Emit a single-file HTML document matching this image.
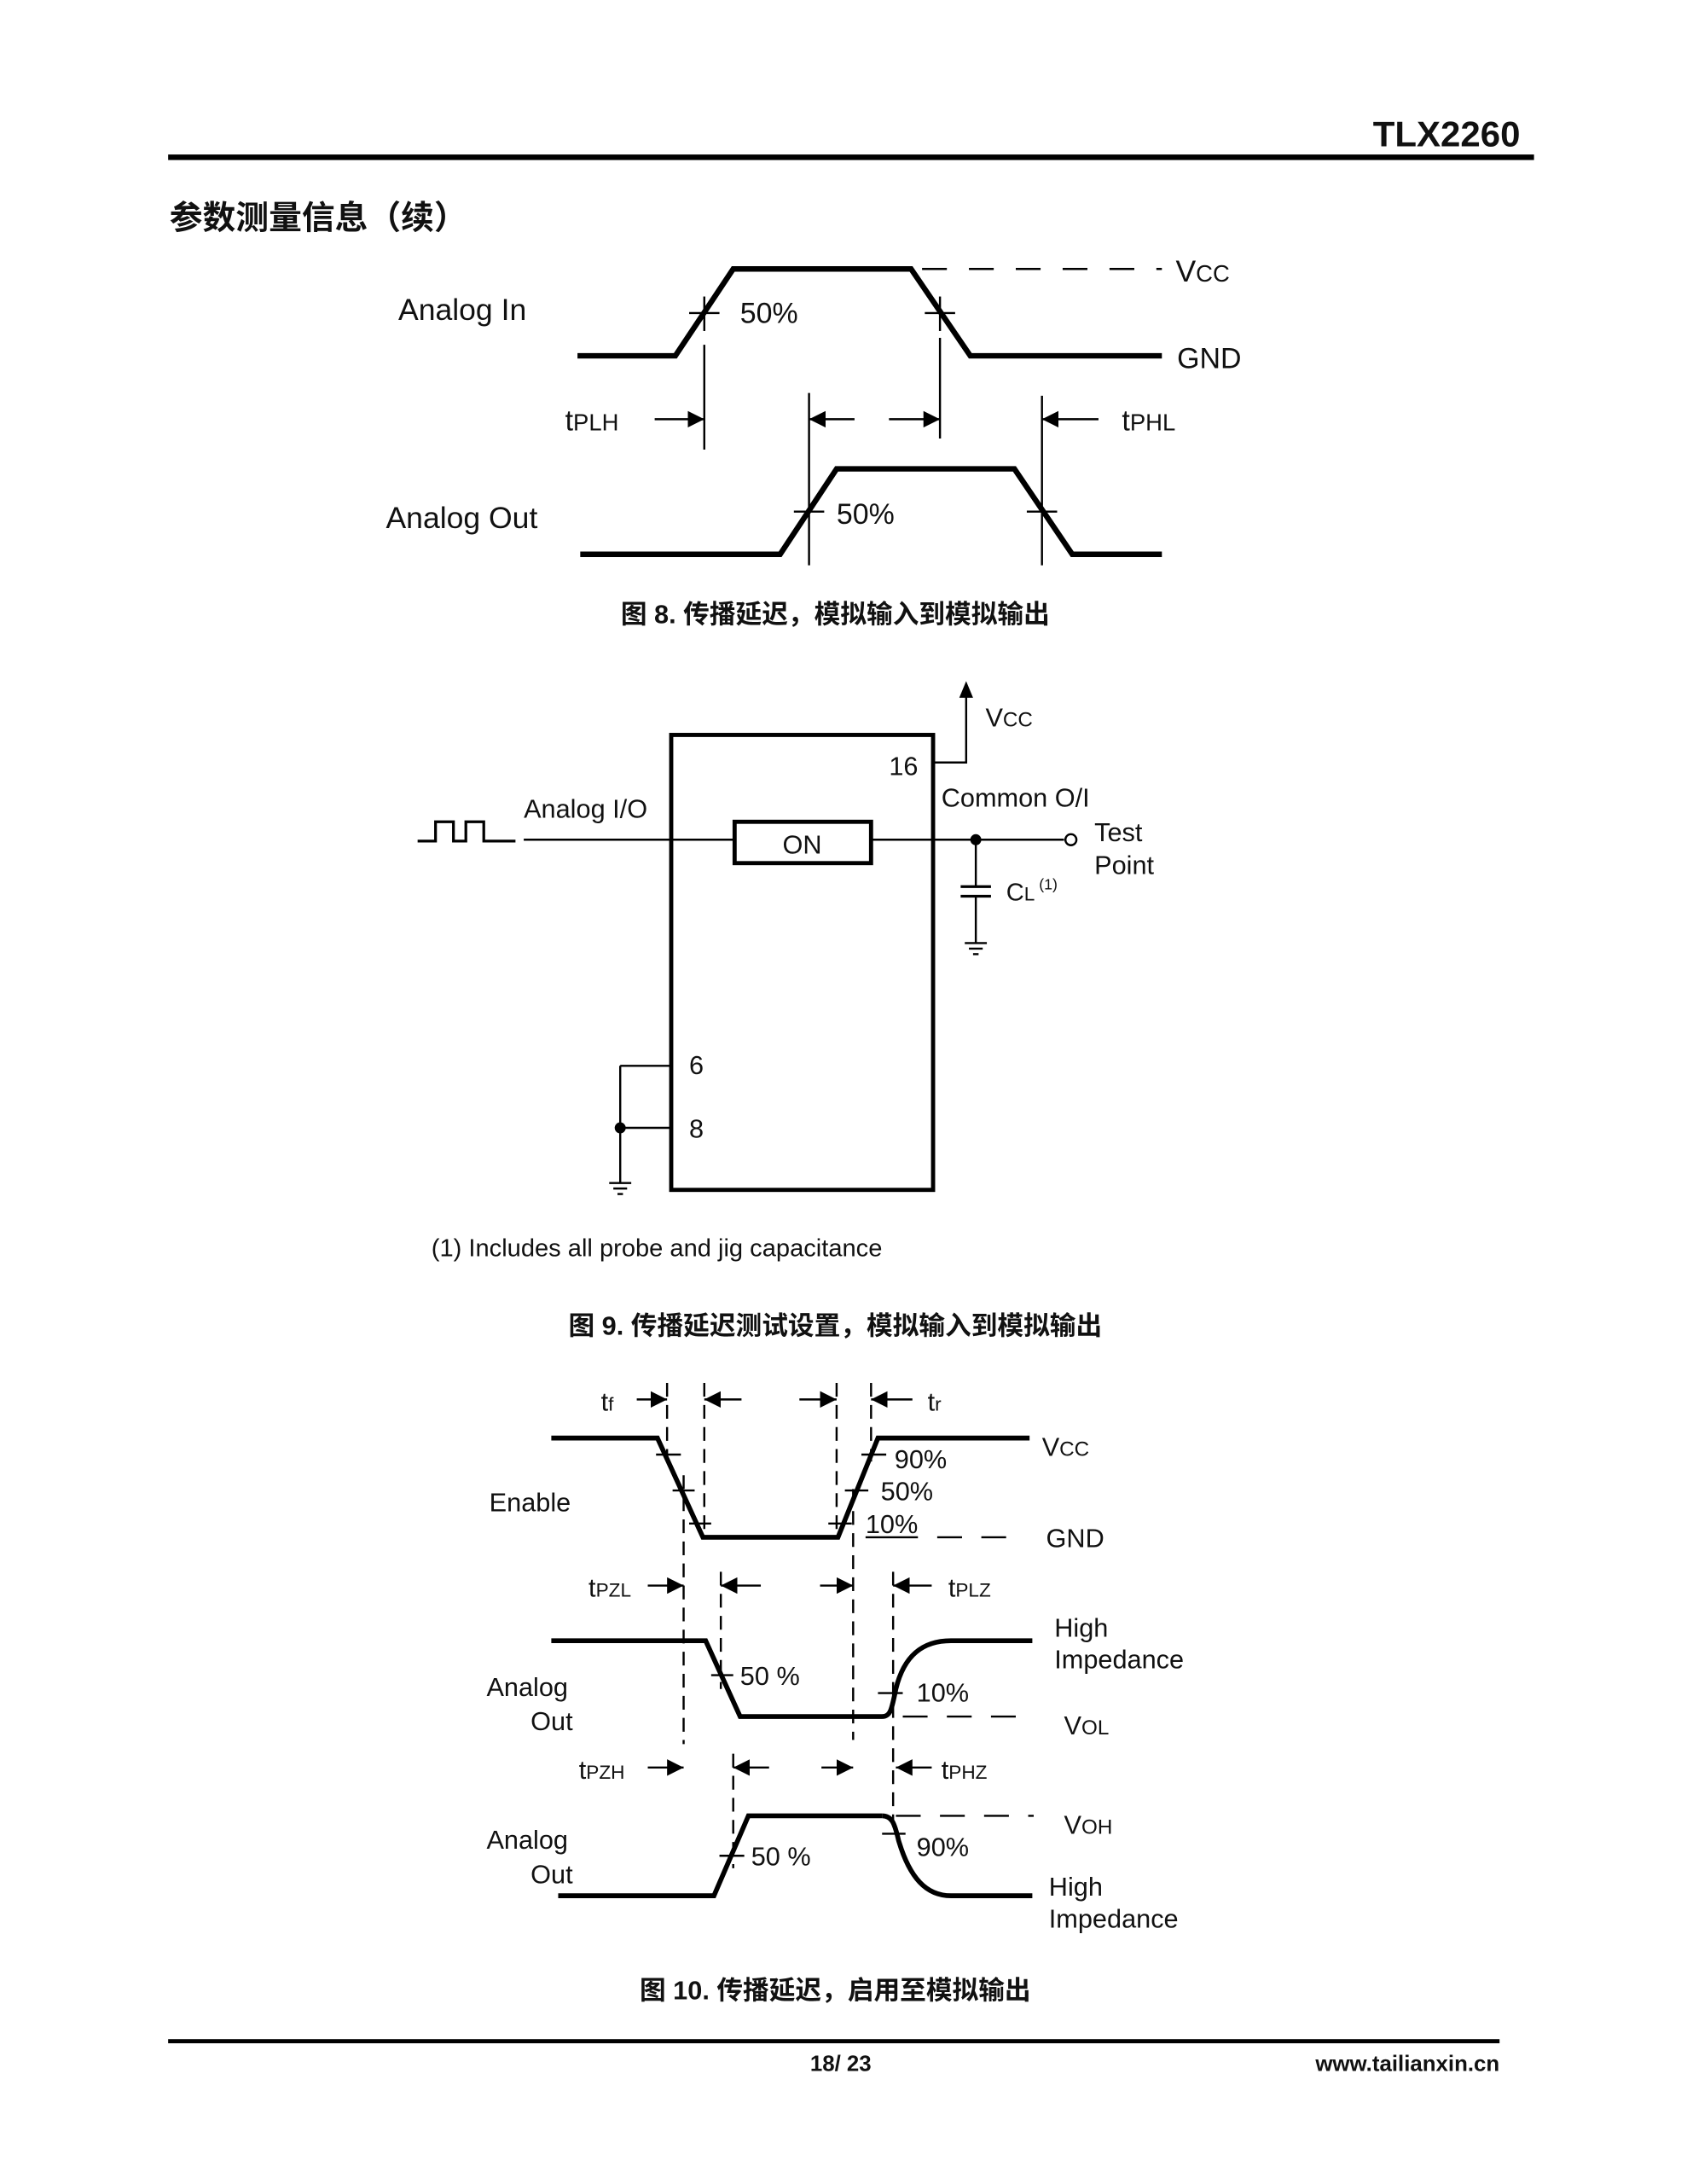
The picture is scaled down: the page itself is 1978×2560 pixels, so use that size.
<!DOCTYPE html>
<html><head><meta charset="utf-8"><style>
html,body{margin:0;padding:0;background:#fff}
svg{display:block}
text{font-family:"Liberation Sans","Noto Sans CJK SC",sans-serif;fill:#111}
.cn{font-family:"Liberation Sans","Noto Sans CJK SC",sans-serif;font-weight:bold}
</style></head><body>
<svg width="1978" height="2560" viewBox="0 0 1224 1584" xmlns="http://www.w3.org/2000/svg">
<defs>
<marker id="ah" viewBox="0 0 10 10" refX="10" refY="5" markerWidth="12" markerHeight="12" markerUnits="userSpaceOnUse" orient="auto"><path d="M0,0 L10,5 L0,10 z" fill="#000"/></marker>
</defs>
<!-- header -->
<text x="1103" y="106" text-anchor="end" font-size="26" font-weight="bold">TLX2260</text>
<rect x="122" y="112" width="991" height="4" fill="#000"/>
<text x="123" y="166" font-size="24" class="cn">参数测量信息（续）</text>

<!-- Fig 8 -->
<g fill="none" stroke="#000">
<polyline stroke-width="4" points="419,258 490,258 532,195 661,195 704,258 843,258"/>
<line x1="661" y1="195" x2="843" y2="195" stroke-width="1.5" stroke-dasharray="18,16" stroke-dashoffset="-8"/>
<polyline stroke-width="4" points="421,402 566,402 607,340 736,340 778,402 843,402"/>
<g stroke-width="1.5">
<line x1="500" y1="227" x2="522" y2="227"/><line x1="671" y1="227" x2="693" y2="227"/>
<line x1="576" y1="371" x2="598" y2="371"/><line x1="745" y1="371" x2="767" y2="371"/>
<line x1="511" y1="215" x2="511" y2="240"/><line x1="682" y1="215" x2="682" y2="240"/>
<line x1="511" y1="250" x2="511" y2="326"/><line x1="682" y1="245" x2="682" y2="318"/>
<line x1="587" y1="285" x2="587" y2="410"/><line x1="756" y1="287" x2="756" y2="410"/>
<line x1="475" y1="304" x2="511" y2="304" marker-end="url(#ah)"/>
<line x1="620" y1="304" x2="587" y2="304" marker-end="url(#ah)"/>
<line x1="645" y1="304" x2="682" y2="304" marker-end="url(#ah)"/>
<line x1="797" y1="304" x2="756" y2="304" marker-end="url(#ah)"/>
</g></g>
<text x="289" y="232" font-size="22">Analog In</text>
<text x="280" y="383" font-size="22">Analog Out</text>
<text x="537" y="234" font-size="21">50%</text>
<text x="607" y="380" font-size="21">50%</text>
<text x="853" y="204" font-size="22">V<tspan font-size="17">CC</tspan></text>
<text x="854" y="267" font-size="21">GND</text>
<text x="410" y="312" font-size="21">t<tspan font-size="17">PLH</tspan></text>
<text x="814" y="312" font-size="21">t<tspan font-size="17">PHL</tspan></text>
<text x="606" y="452" font-size="19" text-anchor="middle" class="cn">图 8. 传播延迟，模拟输入到模拟输出</text>

<!-- Fig 9 -->
<g fill="none" stroke="#000">
<rect x="487" y="533" width="190" height="330" stroke-width="3"/>
<rect x="533" y="596" width="99" height="30" stroke-width="3"/>
<polyline stroke-width="2" points="303,610 316,610 316,596 329,596 329,610 338,610 338,596 351,596 351,610 374,610"/>
<g stroke-width="1.5">
<line x1="380" y1="609" x2="533" y2="609"/><line x1="632" y1="609" x2="772" y2="609"/>
<polyline points="677,553 701,553 701,505"/>
<line x1="708" y1="609" x2="708" y2="643"/><line x1="708" y1="650" x2="708" y2="684"/>
<line x1="450" y1="773" x2="487" y2="773"/><line x1="450" y1="818" x2="487" y2="818"/>
<line x1="450" y1="773" x2="450" y2="858"/>
<line x1="700" y1="684" x2="716" y2="684"/><line x1="703" y1="688" x2="713" y2="688"/><line x1="706" y1="692" x2="710" y2="692"/>
<line x1="442" y1="858" x2="458" y2="858"/><line x1="445" y1="862" x2="455" y2="862"/><line x1="448" y1="866" x2="452" y2="866"/>
</g>
<line x1="697" y1="643" x2="719" y2="643" stroke-width="2"/><line x1="697" y1="650" x2="719" y2="650" stroke-width="2"/>
<circle cx="777" cy="609" r="4" stroke-width="1.5" fill="#fff"/>
</g>
<path d="M701,494 L696,506 L706,506 z" fill="#000"/>
<circle cx="708" cy="609" r="4" fill="#000"/>
<circle cx="450" cy="818" r="4" fill="#000"/>
<text x="715" y="527" font-size="19">V<tspan font-size="15">CC</tspan></text>
<text x="645" y="562" font-size="19">16</text>
<text x="683" y="585" font-size="19">Common O/I</text>
<text x="380" y="593" font-size="19">Analog I/O</text>
<text x="582" y="619" font-size="19" text-anchor="middle">ON</text>
<text x="794" y="610" font-size="19">Test</text>
<text x="794" y="634" font-size="19">Point</text>
<text x="730" y="653" font-size="18">C<tspan font-size="14">L</tspan><tspan font-size="11" dy="-8"> (1)</tspan></text>
<text x="500" y="779" font-size="19">6</text>
<text x="500" y="825" font-size="19">8</text>
<text x="313" y="911" font-size="18">(1) Includes all probe and jig capacitance</text>
<text x="606" y="968" font-size="19" text-anchor="middle" class="cn">图 9. 传播延迟测试设置，模拟输入到模拟输出</text>

<!-- Fig 10 -->
<g fill="none" stroke="#000">
<polyline stroke-width="3.5" points="400,1043 477,1043 510,1115 608,1115 637,1043 747,1043"/>
<path stroke-width="3.5" d="M400,1190 L512,1190 L537,1245 L640,1245 C646,1245 647,1240 650,1225 C656,1200 670,1190 690,1190 L749,1190"/>
<polyline stroke-width="3.5" points="405,1375 518,1375 543,1317 640,1317"/>
<path d="M640,1317 C647,1317 649,1322 652,1335 C660,1362 672,1375 690,1375 L749,1375" stroke-width="3.5"/>
<g stroke-width="1.5" stroke-dasharray="10,6">
<line x1="484" y1="1003" x2="484" y2="1060"/><line x1="511" y1="1003" x2="511" y2="1115"/>
<line x1="607" y1="1003" x2="607" y2="1115"/><line x1="632" y1="1003" x2="632" y2="1060"/>
<line x1="496" y1="1070" x2="496" y2="1265"/><line x1="619" y1="1080" x2="619" y2="1262"/>
<line x1="523" y1="1140" x2="523" y2="1225"/><line x1="648" y1="1140" x2="648" y2="1325"/>
<line x1="532" y1="1272" x2="532" y2="1355"/>
</g>
<g stroke-width="1.5" stroke-dasharray="18,14">
<line x1="680" y1="1115" x2="740" y2="1115"/>
<line x1="655" y1="1245" x2="742" y2="1245"/>
<line x1="650" y1="1317" x2="750" y2="1317"/>
</g>
<g stroke-width="1.5">
<line x1="476" y1="1055" x2="494" y2="1055"/><line x1="488" y1="1081" x2="504" y2="1081"/><line x1="500" y1="1105" x2="516" y2="1105"/>
<line x1="625" y1="1055" x2="643" y2="1055"/><line x1="613" y1="1081" x2="630" y2="1081"/><line x1="601" y1="1105" x2="618" y2="1105"/>
<line x1="628" y1="1115" x2="666" y2="1115"/>
<line x1="516" y1="1215" x2="532" y2="1215"/><line x1="637" y1="1228" x2="655" y2="1228"/>
<line x1="522" y1="1346" x2="540" y2="1346"/><line x1="640" y1="1330" x2="657" y2="1330"/>
<line x1="462" y1="1015" x2="484" y2="1015" marker-end="url(#ah)"/>
<line x1="538" y1="1015" x2="511" y2="1015" marker-end="url(#ah)"/>
<line x1="580" y1="1015" x2="607" y2="1015" marker-end="url(#ah)"/>
<line x1="662" y1="1015" x2="632" y2="1015" marker-end="url(#ah)"/>
<line x1="470" y1="1150" x2="496" y2="1150" marker-end="url(#ah)"/>
<line x1="552" y1="1150" x2="523" y2="1150" marker-end="url(#ah)"/>
<line x1="595" y1="1150" x2="619" y2="1150" marker-end="url(#ah)"/>
<line x1="676" y1="1150" x2="648" y2="1150" marker-end="url(#ah)"/>
<line x1="470" y1="1282" x2="496" y2="1282" marker-end="url(#ah)"/>
<line x1="558" y1="1282" x2="532" y2="1282" marker-end="url(#ah)"/>
<line x1="596" y1="1282" x2="619" y2="1282" marker-end="url(#ah)"/>
<line x1="676" y1="1282" x2="650" y2="1282" marker-end="url(#ah)"/>
</g></g>
<g font-size="19">
<text x="436" y="1023">t<tspan font-size="14">f</tspan></text>
<text x="673" y="1023">t<tspan font-size="14">r</tspan></text>
<text x="756" y="1056">V<tspan font-size="15">CC</tspan></text>
<text x="649" y="1065">90%</text>
<text x="639" y="1088">50%</text>
<text x="628" y="1112">10%</text>
<text x="759" y="1122">GND</text>
<text x="355" y="1096">Enable</text>
<text x="427" y="1158">t<tspan font-size="14">PZL</tspan></text>
<text x="688" y="1158">t<tspan font-size="14">PLZ</tspan></text>
<text x="765" y="1187">High</text>
<text x="765" y="1210">Impedance</text>
<text x="537" y="1222">50 %</text>
<text x="665" y="1234">10%</text>
<text x="772" y="1258">V<tspan font-size="15">OL</tspan></text>
<text x="353" y="1230">Analog</text>
<text x="385" y="1255">Out</text>
<text x="420" y="1290">t<tspan font-size="14">PZH</tspan></text>
<text x="683" y="1290">t<tspan font-size="14">PHZ</tspan></text>
<text x="772" y="1330">V<tspan font-size="15">OH</tspan></text>
<text x="665" y="1346">90%</text>
<text x="545" y="1353">50 %</text>
<text x="353" y="1341">Analog</text>
<text x="385" y="1366">Out</text>
<text x="761" y="1375">High</text>
<text x="761" y="1398">Impedance</text>
</g>
<text x="606" y="1450" font-size="19" text-anchor="middle" class="cn">图 10. 传播延迟，启用至模拟输出</text>

<!-- footer -->
<rect x="122" y="1479" width="966" height="3" fill="#000"/>
<text x="610" y="1502" font-size="16" font-weight="bold" text-anchor="middle">18/ 23</text>
<text x="1088" y="1502" font-size="16" font-weight="bold" text-anchor="end">www.tailianxin.cn</text>
</svg>
</body></html>
